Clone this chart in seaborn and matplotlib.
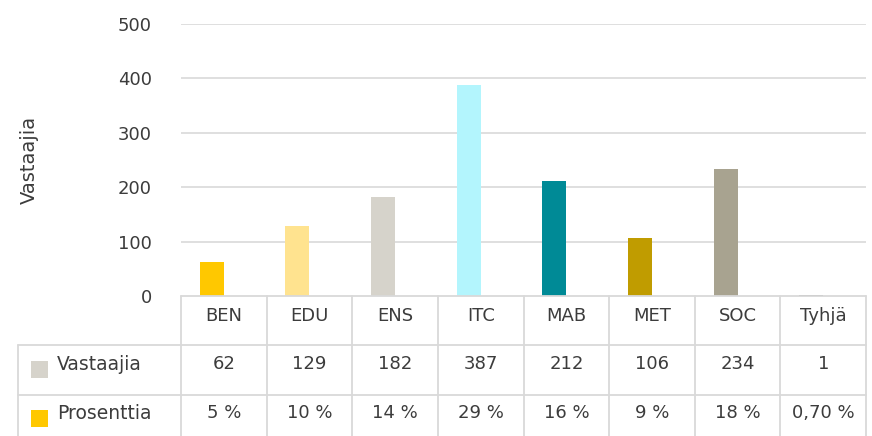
import matplotlib
matplotlib.use("Agg")
import matplotlib.pyplot as plt
import matplotlib.transforms as mtrans
import seaborn as sns
import pandas as pd

categories = ["BEN", "EDU", "ENS", "ITC", "MAB", "MET", "SOC", "Tyhjä"]
vastaajia = [62, 129, 182, 387, 212, 106, 234, 1]
prosenttia = [5, 10, 14, 29, 16, 9, 18, 0.70]
prosenttia_labels = ["5 %", "10 %", "14 %", "29 %", "16 %", "9 %", "18 %", "0,70 %"]
series_names = ["Vastaajia", "Prosenttia"]
bar_colors = ["#FFC800", "#FFE38F", "#D6D3CB", "#B3F5FD", "#008A96", "#C09C00", "#A8A390", "#7F7F7F"]
series_colors = ["#D6D3CB", "#FFC800"]
yticks = [0, 100, 200, 300, 400, 500]

TXT = "#3C3C3C"
GRID = "#D9D9D9"
W, H = 872, 436
FS = 13

sns.set_theme(style="white")
plt.rcParams["font.family"] = ["DejaVu Sans"]

df = pd.DataFrame({
    "cat": categories * 2,
    "value": vastaajia + [p / 100 for p in prosenttia],
    "series": [series_names[0]] * len(categories) + [series_names[1]] * len(categories),
})

fig = plt.figure(figsize=(W / 100, H / 100), dpi=100)
ax = fig.add_axes([181 / W, (H - 296) / H, 685 / W, 272 / H])

sns.barplot(data=df, x="cat", y="value", hue="series", order=categories,
            hue_order=series_names, palette=series_colors, width=0.56,
            ax=ax, legend=False, saturation=1, linewidth=0)

# recolor the Vastaajia bars per category
n = len(categories)
for i, patch in enumerate(ax.patches[:n]):
    patch.set_facecolor(bar_colors[i])

ax.set_xlim(-0.5, n - 0.5)
ax.set_ylim(0, 500)
ax.set_yticks(yticks)
ax.set_yticklabels([str(t) for t in yticks], fontsize=FS, color=TXT)
ax.tick_params(axis="y", length=0, pad=21)
ax.tick_params(axis="x", length=0, labelbottom=False)
ax.set_xlabel("")
ax.set_ylabel("Vastaajia", fontsize=14, color=TXT)
ax.yaxis.set_label_coords(-0.208, 0.5)
for s in ax.spines.values():
    s.set_visible(False)
for t in yticks[1:]:
    ax.axhline(t, color=GRID, lw=1.2, zorder=0)

# data table below
def fy(py):
    return 1 - py / H

bt = mtrans.blended_transform_factory(ax.transData, fig.transFigure)
ft = fig.transFigure

# horizontal lines
fig.add_artist(plt.Line2D([181 / W, 866 / W], [fy(295.5), fy(295.5)], color=GRID, lw=1.3, transform=ft))
for py in [345, 395]:
    fig.add_artist(plt.Line2D([18 / W, 866 / W], [fy(py), fy(py)], color=GRID, lw=1.3, transform=ft))
# vertical lines
fig.add_artist(plt.Line2D([18 / W, 18 / W], [fy(345), fy(H)], color=GRID, lw=1.3, transform=ft))
for i in range(n + 1):
    x = i - 0.5
    fig.add_artist(plt.Line2D([x, x], [fy(295.5), fy(H)], color=GRID, lw=1.3, transform=bt))

for i, c in enumerate(categories):
    fig.text(i, fy(316), c, transform=bt, ha="center", va="center", fontsize=FS, color=TXT)
    fig.text(i, fy(364), str(vastaajia[i]), transform=bt, ha="center", va="center", fontsize=FS, color=TXT)
    fig.text(i, fy(413), prosenttia_labels[i], transform=bt, ha="center", va="center", fontsize=FS, color=TXT)

# row labels with legend keys
for j, (name, col, py) in enumerate(zip(series_names, series_colors, [364, 413])):
    fig.add_artist(plt.Rectangle((31 / W, fy(py + 14)), 17 / W, 17 / H, color=col, transform=ft, lw=0))
    fig.text(57 / W, fy(py), name, transform=ft, ha="left", va="center", fontsize=FS + 0.5, color=TXT)

fig.savefig("out.png", dpi=100)
